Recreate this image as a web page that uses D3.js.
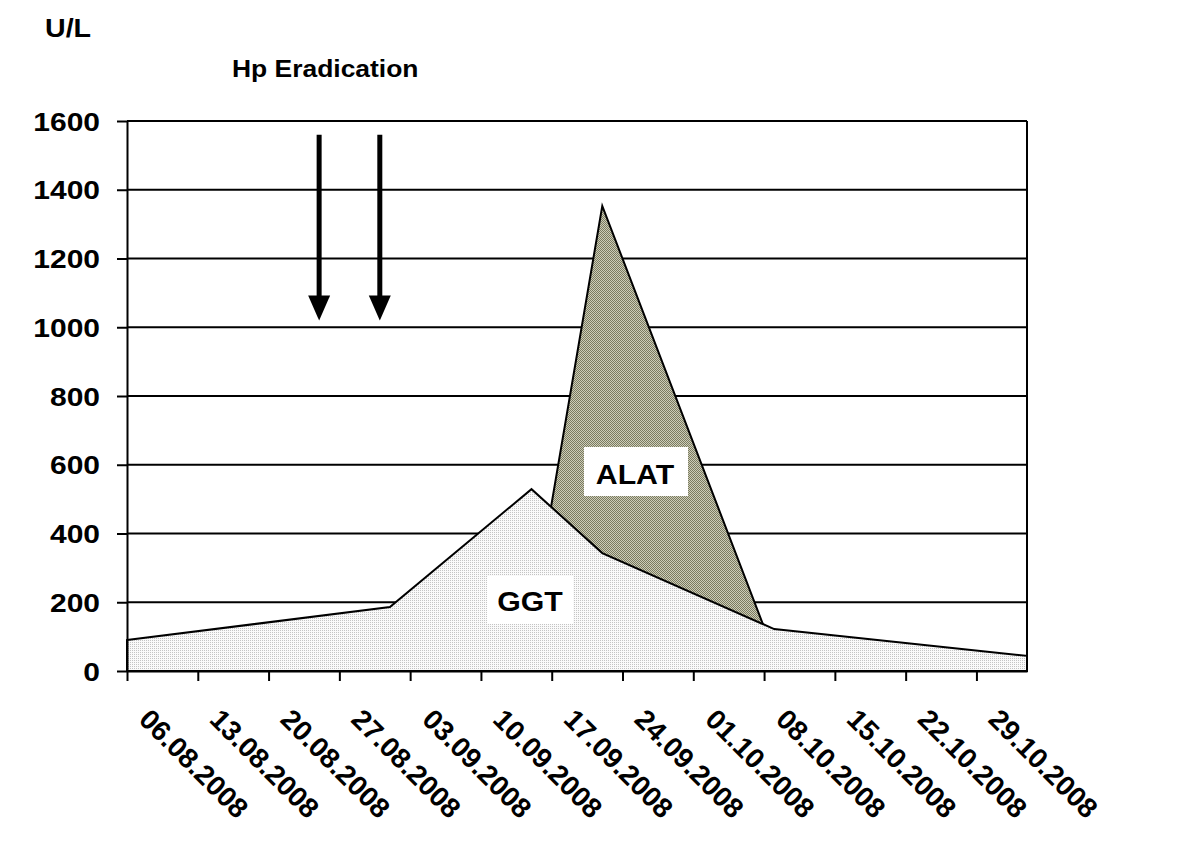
<!DOCTYPE html>
<html>
<head>
<meta charset="utf-8">
<script src="https://d3js.org/d3.v7.min.js"></script>
<style>
  body { margin: 0; background: #fff; }
  text { font-family: "Liberation Sans", Arial, sans-serif; font-weight: bold; fill: #000; }
</style>
</head>
<body>
<script>
// ---- data ----
var tickDates = ["06.08.2008", "13.08.2008", "20.08.2008", "27.08.2008", "03.09.2008",
                 "10.09.2008", "17.09.2008", "24.09.2008", "01.10.2008", "08.10.2008",
                 "15.10.2008", "22.10.2008", "29.10.2008"];
var axisStart = "06.08.2008", axisEnd = "03.11.2008";
var yTicks = [0, 200, 400, 600, 800, 1000, 1200, 1400, 1600];

var ggtDates  = ["06.08.2008", "01.09.2008", "15.09.2008", "22.09.2008", "09.10.2008", "03.11.2008"];
var ggtValues = [90, 186, 529, 343, 122, 44];

var alatDates  = ["15.09.2008", "22.09.2008", "09.10.2008"];
var alatValues = [143, 1353, 51];

var eradicationDates = ["25.08.2008", "31.08.2008"];
var arrowFrom = 1560, arrowTo = 1020;

// ---- setup ----
var parse = d3.utcParse("%d.%m.%Y");
var fmt = d3.utcFormat("%d.%m.%Y");

var svg = d3.select("body").append("svg")
    .attr("width", 1200)
    .attr("height", 850);

var x = d3.scaleUtc()
    .domain([parse(axisStart), parse(axisEnd)])
    .range([127, 1027]);
var y = d3.scaleLinear()
    .domain([0, 1600])
    .range([671, 121]);

var defs = svg.append("defs");
var pg = defs.append("pattern").attr("id", "ggtFill")
    .attr("width", 2).attr("height", 2).attr("patternUnits", "userSpaceOnUse");
pg.append("rect").attr("width", 2).attr("height", 2).attr("fill", "#fafafa");
pg.append("rect").attr("width", 1).attr("height", 1).attr("fill", "#c4c4c4");

var pa = defs.append("pattern").attr("id", "alatFill")
    .attr("width", 2).attr("height", 2).attr("patternUnits", "userSpaceOnUse");
pa.append("rect").attr("width", 2).attr("height", 2).attr("fill", "#cdcdb8");
pa.append("rect").attr("width", 1).attr("height", 1).attr("fill", "#7a7a60");
pa.append("rect").attr("x", 1).attr("y", 1).attr("width", 1).attr("height", 1).attr("fill", "#7a7a60");

// gridlines
svg.append("g").selectAll("line")
    .data(yTicks.filter(function (d) { return d > 0; }))
    .join("line")
    .attr("x1", x.range()[0]).attr("x2", x.range()[1])
    .attr("y1", function (d) { return y(d); })
    .attr("y2", function (d) { return y(d); })
    .attr("stroke", "#000").attr("stroke-width", 2);

// areas
var area = d3.area()
    .x(function (d) { return x(d.date); })
    .y0(y(0))
    .y1(function (d) { return y(d.value); });

var alat = alatDates.map(function (d, i) { return { date: parse(d), value: alatValues[i] }; });
var ggt = ggtDates.map(function (d, i) { return { date: parse(d), value: ggtValues[i] }; });

svg.append("path").datum(alat)
    .attr("d", area)
    .attr("fill", "url(#alatFill)")
    .attr("stroke", "#000").attr("stroke-width", 2).attr("stroke-linejoin", "miter");

svg.append("path").datum(ggt)
    .attr("d", area)
    .attr("fill", "url(#ggtFill)")
    .attr("stroke", "#000").attr("stroke-width", 2).attr("stroke-linejoin", "miter");

// right border
svg.append("line")
    .attr("x1", x.range()[1]).attr("x2", x.range()[1])
    .attr("y1", y(1600)).attr("y2", y(0))
    .attr("stroke", "#000").attr("stroke-width", 2);

// y axis
var yAxis = svg.append("g")
    .attr("transform", "translate(" + x.range()[0] + ",0)")
    .call(d3.axisLeft(y).tickValues(yTicks).tickSize(10).tickSizeOuter(0).tickFormat(d3.format("d")));
yAxis.selectAll("path, line").attr("stroke", "#000").attr("stroke-width", 2);
yAxis.selectAll("text")
    .attr("font-size", 25)
    .attr("font-family", null)
    .attr("x", -27 / 1.2)
    .attr("dy", "0.36em")
    .attr("transform", "scale(1.2,1)");

// x axis
var xAxis = svg.append("g")
    .attr("transform", "translate(0," + y(0) + ")")
    .call(d3.axisBottom(x).tickValues(tickDates.map(parse)).tickSize(10).tickSizeOuter(0).tickFormat(fmt));
xAxis.selectAll("path, line").attr("stroke", "#000").attr("stroke-width", 2);
xAxis.selectAll("text")
    .attr("font-size", 28)
    .attr("font-family", null)
    .attr("text-anchor", "start")
    .attr("x", 0).attr("y", 0).attr("dy", null)
    .attr("transform", "translate(10,50) rotate(45)");

// eradication arrows
var arrows = svg.append("g").selectAll("g")
    .data(eradicationDates.map(parse))
    .join("g");
arrows.append("line")
    .attr("x1", function (d) { return x(d); }).attr("x2", function (d) { return x(d); })
    .attr("y1", y(arrowFrom)).attr("y2", y(arrowTo) - 20)
    .attr("stroke", "#000").attr("stroke-width", 5);
arrows.append("path")
    .attr("d", function (d) {
      var cx = x(d), ty = y(arrowTo);
      return "M" + (cx - 11) + "," + (ty - 25) + "L" + (cx + 11) + "," + (ty - 25) + "L" + cx + "," + ty + "Z";
    })
    .attr("fill", "#000");

// titles
svg.append("text")
    .attr("transform", "translate(45,37) scale(1.1,1)")
    .attr("font-size", 26)
    .text("U/L");
svg.append("text")
    .attr("transform", "translate(232,77) scale(1.15,1)")
    .attr("font-size", 23)
    .text("Hp Eradication");

// series labels
svg.append("rect").attr("x", 584).attr("y", 447).attr("width", 104).attr("height", 49).attr("fill", "#fff");
svg.append("text")
    .attr("transform", "translate(635,484) scale(1.08,1)")
    .attr("text-anchor", "middle")
    .attr("font-size", 28)
    .text("ALAT");

svg.append("rect").attr("x", 487).attr("y", 576).attr("width", 86).attr("height", 48).attr("fill", "#fff");
svg.append("text")
    .attr("transform", "translate(530,611) scale(1.08,1)")
    .attr("text-anchor", "middle")
    .attr("font-size", 28)
    .text("GGT");
</script>
</body>
</html>
